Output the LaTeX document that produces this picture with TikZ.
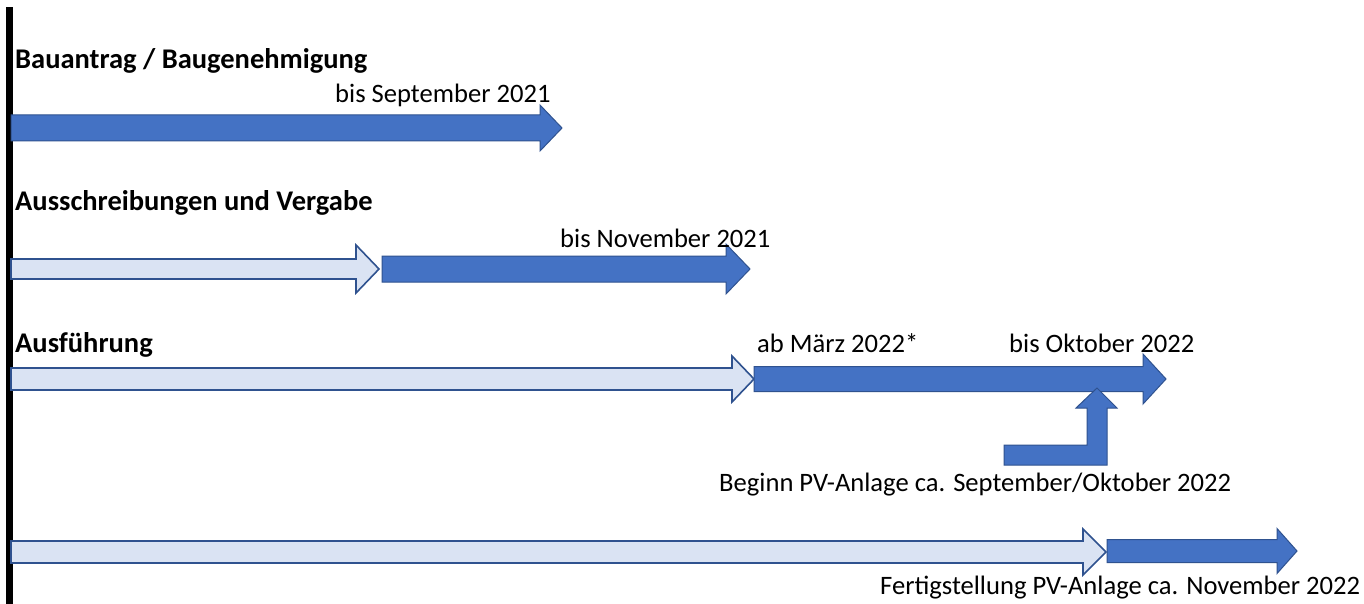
\documentclass[tikz,border=0pt]{standalone}
\usepackage{fontspec}
\setmainfont{Carlito}
\begin{document}
\begin{tikzpicture}[x=1pt,y=-1pt,
  darkarr/.style={fill=arrdark,draw=arredge,line width=1pt,line join=miter},
  lightarr/.style={fill=arrlight,draw=arredge,line width=1.6pt,line join=miter},
  title/.style={anchor=base west,inner sep=0pt,font=\fontsize{28.5}{32}\selectfont\bfseries},
  lbl/.style={anchor=base west,inner sep=0pt,font=\fontsize{26.6}{31}\selectfont}]
\definecolor{arrdark}{HTML}{4472C4}
\definecolor{arrlight}{HTML}{DAE3F3}
\definecolor{arredge}{HTML}{2F528F}
\useasboundingbox (0,0) rectangle (1364,604);
\fill[white] (0,0) rectangle (1364,604);
% #1 style, #2 x start, #3 x tip, #4 y centre, #5 half shaft, #6 half head, #7 head length
\def\blockarrow#1#2#3#4#5#6#7{%
  \draw[#1] (#2,#4-#5) -- (#3-#7,#4-#5) -- (#3-#7,#4-#6) -- (#3,#4)
    -- (#3-#7,#4+#6) -- (#3-#7,#4+#5) -- (#2,#4+#5) -- cycle;}
% left bar
\fill[black] (5.5,7) rectangle (12.5,604);
% row 1
\node[title] (t1) at (15,69) {Bauantrag / Baugenehmigung};
\blockarrow{darkarr}{11}{562}{128}{13}{23}{22}
\node[lbl] (l1) at (335,103) {bis September 2021};
% row 2
\node[title] (t2) at (15,211) {Ausschreibungen und Vergabe};
\blockarrow{lightarr}{11}{379}{269}{10}{24}{23}
\blockarrow{darkarr}{382}{750}{269}{13}{25}{24}
\node[lbl] (l2) at (560,247) {bis November 2021};
% row 3
\node[title] (t3) at (15,352) {Ausführung};
\blockarrow{lightarr}{11}{754}{379}{11}{23}{22}
\blockarrow{darkarr}{754}{1166}{379}{12.5}{25}{23}
\node[lbl] (l3a) at (757,352) {ab März 2022*};
\node[lbl] (l3b) at (1009,352) {bis Oktober 2022};
% bent arrow
\draw[darkarr] (1004,445) -- (1087,445) -- (1087,408) -- (1076,408) -- (1097,388)
  -- (1117,408) -- (1107,408) -- (1107,465) -- (1004,465) -- cycle;
\node[lbl] (l3c) at (719,491) {Beginn PV-Anlage ca. September/Oktober 2022};
% row 4
\blockarrow{lightarr}{11}{1106}{552}{11}{23}{23}
\blockarrow{darkarr}{1107}{1297}{551}{11.5}{22.5}{20}
\node[lbl] (l4) at (880,594) {Fertigstellung PV-Anlage ca. November 2022};
\end{tikzpicture}
\end{document}
